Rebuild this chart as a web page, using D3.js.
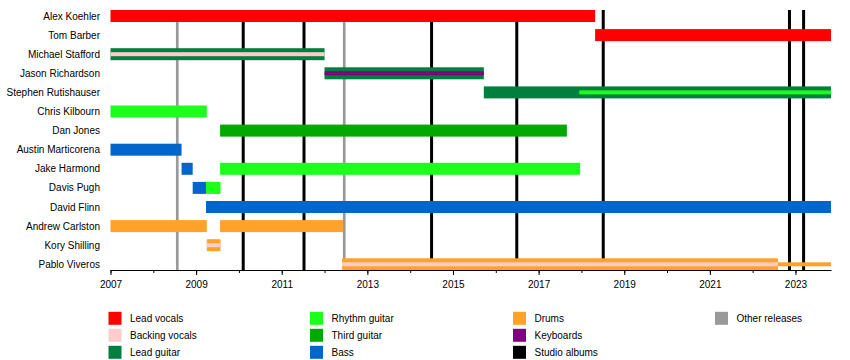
<!DOCTYPE html>
<html>
<head>
<meta charset="utf-8">
<script src="https://cdn.jsdelivr.net/npm/d3@7"></script>
<style>
  html, body { margin: 0; padding: 0; background: #fff; }
  svg { display: block; font-family: "Liberation Sans", Arial, Helvetica, sans-serif; }
</style>
</head>
<body>
<svg id="chart" width="850" height="360"></svg>
<script>
// ---------- data ----------
const members = [
  "Alex Koehler", "Tom Barber", "Michael Stafford", "Jason Richardson",
  "Stephen Rutishauser", "Chris Kilbourn", "Dan Jones", "Austin Marticorena",
  "Jake Harmond", "Davis Pugh", "David Flinn", "Andrew Carlston",
  "Kory Shilling", "Pablo Viveros"
];
const roles = [
  "Lead vocals", "Backing vocals", "Lead guitar", "Rhythm guitar",
  "Third guitar", "Bass", "Drums", "Keyboards", "Studio albums", "Other releases"
];
const startDate = 2007;
const endDate = 2023.83;

// main periods: [member, role, start, end]
const mainSpans = [
  ["Alex Koehler", "Lead vocals", 2007, 2018.32],
  ["Tom Barber", "Lead vocals", 2018.32, endDate],
  ["Michael Stafford", "Lead guitar", 2007, 2012.0],
  ["Jason Richardson", "Lead guitar", 2012.0, 2015.72],
  ["Stephen Rutishauser", "Lead guitar", 2015.72, endDate],
  ["Chris Kilbourn", "Rhythm guitar", 2007, 2009.25],
  ["Dan Jones", "Third guitar", 2009.56, 2017.66],
  ["Austin Marticorena", "Bass", 2007, 2008.66],
  ["Jake Harmond", "Bass", 2008.66, 2008.92],
  ["Jake Harmond", "Rhythm guitar", 2009.56, 2017.97],
  ["Davis Pugh", "Bass", 2008.92, 2009.23],
  ["Davis Pugh", "Rhythm guitar", 2009.23, 2009.57],
  ["David Flinn", "Bass", 2009.23, endDate],
  ["Andrew Carlston", "Drums", 2007, 2009.25],
  ["Andrew Carlston", "Drums", 2009.56, 2012.43],
  ["Kory Shilling", "Drums", 2009.25, 2009.57],
  ["Pablo Viveros", "Drums", 2012.41, 2022.59]
];
// secondary periods (thin bars): [member, role, start, end]
const secondarySpans = [
  ["Michael Stafford", "Backing vocals", 2007, 2012.0],
  ["Jason Richardson", "Keyboards", 2012.0, 2015.72],
  ["Stephen Rutishauser", "Rhythm guitar", 2017.95, endDate],
  ["Kory Shilling", "Backing vocals", 2009.25, 2009.57],
  ["Pablo Viveros", "Backing vocals", 2012.41, 2022.59],
  ["Pablo Viveros", "Drums", 2022.59, endDate]
];
const studioAlbums = [2010.1, 2011.52, 2014.5, 2016.49, 2018.51, 2022.86, 2023.19];
const otherReleases = [2008.56, 2012.46];
const yearTicks = [2007, 2008, 2009, 2010, 2011, 2012, 2013, 2014, 2015, 2016, 2017, 2018, 2019, 2020, 2021, 2022, 2023];
const yearLabels = [2007, 2009, 2011, 2013, 2015, 2017, 2019, 2021, 2023];

// ---------- styles ----------
const roleColor = d3.scaleOrdinal()
  .domain(roles)
  .range(["#ff0000", "#ffcccc", "#007f3f", "#1cff1c", "#00a800", "#0066cc",
          "#ffa229", "#800080", "#000000", "#999999"]);

const svg = d3.select("#chart");
const x = d3.scaleLinear().domain([startDate, endDate]).range([110.5, 831]);
const y = d3.scalePoint().domain(members).range([16, 264.3]);
const axisY = 270;
const lineTop = 10;

// event lines (behind bars)
svg.append("g").selectAll("line").data(otherReleases).join("line")
  .attr("x1", d => x(d)).attr("x2", d => x(d))
  .attr("y1", lineTop).attr("y2", axisY)
  .attr("stroke", roleColor("Other releases")).attr("stroke-width", 2.7);
svg.append("g").selectAll("line").data(studioAlbums).join("line")
  .attr("x1", d => x(d)).attr("x2", d => x(d))
  .attr("y1", lineTop).attr("y2", axisY)
  .attr("stroke", roleColor("Studio albums")).attr("stroke-width", 3);

// main bars
const barH = 12;
svg.append("g").selectAll("rect").data(mainSpans).join("rect")
  .attr("x", d => x(d[2]))
  .attr("width", d => x(d[3]) - x(d[2]))
  .attr("y", d => y(d[0]) - barH / 2)
  .attr("height", barH)
  .attr("fill", d => roleColor(d[1]));

// secondary thin bars
const thinH = 4;
svg.append("g").selectAll("rect").data(secondarySpans).join("rect")
  .attr("x", d => x(d[2]))
  .attr("width", d => x(d[3]) - x(d[2]))
  .attr("y", d => y(d[0]) - thinH / 2)
  .attr("height", thinH)
  .attr("fill", d => roleColor(d[1]));

// member labels
svg.append("g").selectAll("text").data(members).join("text")
  .attr("x", 100).attr("y", d => y(d) + 3.5)
  .attr("text-anchor", "end")
  .attr("font-size", 10).attr("fill", "#000")
  .text(d => d);

// axis
const minorAxis = d3.axisBottom(x).tickValues(yearTicks).tickSize(3).tickSizeOuter(0).tickFormat("");
const majorAxis = d3.axisBottom(x).tickValues(yearLabels).tickSize(5).tickSizeOuter(0)
  .tickPadding(6).tickFormat(d3.format("d"));
const gMinor = svg.append("g").attr("transform", `translate(0,${axisY})`).call(minorAxis);
const gMajor = svg.append("g").attr("transform", `translate(0,${axisY})`).call(majorAxis);
gMinor.select(".domain").remove();
[gMinor, gMajor].forEach(g => {
  g.selectAll("line").attr("stroke", "#000");
  g.select(".domain").attr("stroke", "#000");
});
gMajor.selectAll("text").attr("font-size", 10).attr("fill", "#000")
  .attr("font-family", "'Liberation Sans', Arial, sans-serif");

// legend
const legendCols = [
  ["Lead vocals", "Backing vocals", "Lead guitar"],
  ["Rhythm guitar", "Third guitar", "Bass"],
  ["Drums", "Keyboards", "Studio albums"],
  ["Other releases"]
];
const legendX = [108.5, 310, 513, 715];
const legendRowY = [318.3, 335.3, 352.3];
const legend = svg.append("g");
legendCols.forEach((col, ci) => {
  col.forEach((role, ri) => {
    legend.append("rect")
      .attr("x", legendX[ci]).attr("y", legendRowY[ri] - 6.5)
      .attr("width", 13).attr("height", 13)
      .attr("fill", roleColor(role));
    legend.append("text")
      .attr("x", legendX[ci] + 21.5).attr("y", legendRowY[ri] + 3.5)
      .attr("font-size", 10).attr("fill", "#000")
      .text(role);
  });
});
</script>
</body>
</html>
